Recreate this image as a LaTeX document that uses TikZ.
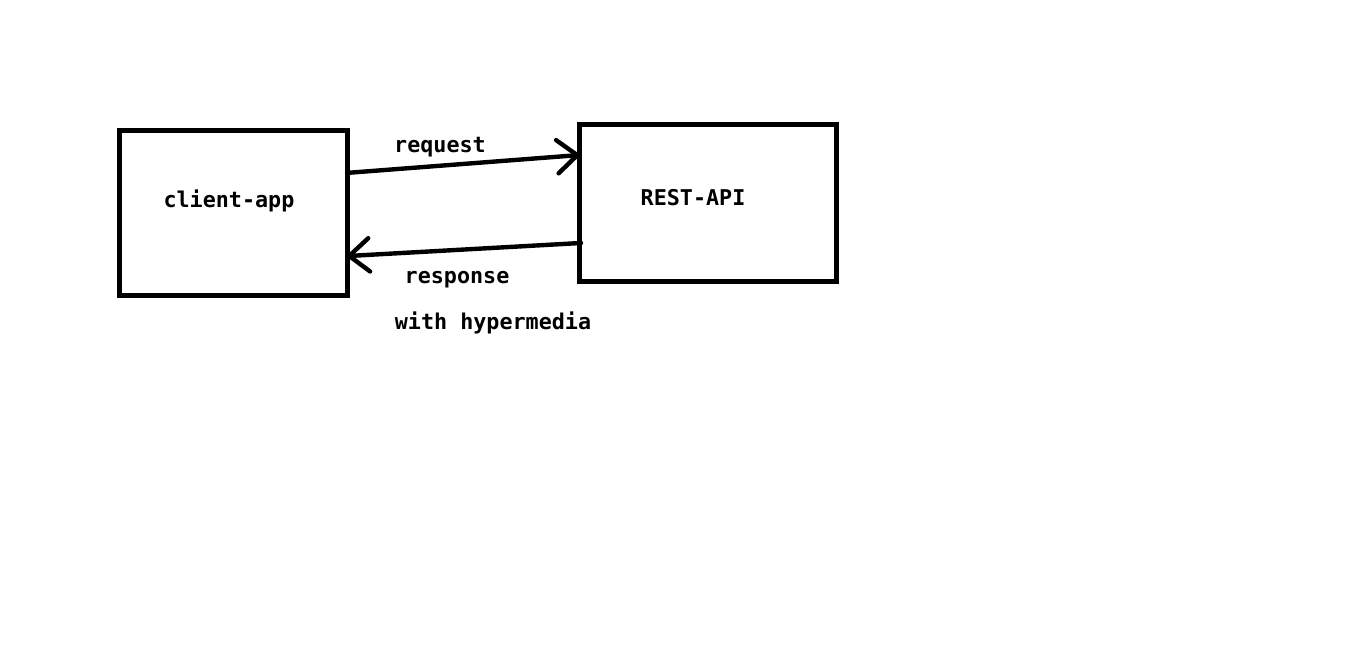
\documentclass[tikz,border=0pt]{standalone}
\usepackage{fontspec}
\setmonofont{DejaVu Sans Mono}
\usetikzlibrary{arrows.meta,calc}
\begin{document}
\begin{tikzpicture}[x=0.75pt,y=-0.75pt,
  box/.style={draw,line width=3.75pt,inner sep=0pt,outer sep=0pt},
  lbl/.style={font=\ttfamily\bfseries\fontsize{16.3}{19}\selectfont,inner sep=0pt},
  conn/.style={line width=3.3pt,line cap=round,-{Straight Barb[length=15pt,width=25pt,line width=3.3pt,round]}}]
\useasboundingbox (0,0) rectangle (1359,654);
\node[box,minimum width=171pt,minimum height=123.75pt] (client) at (233,212.5) {};
\node[box,minimum width=192.4pt,minimum height=117.4pt] (rest) at (707.75,202.75) {};
\coordinate (c1) at ($(client.north east)!0.26!(client.south east)$);
\coordinate (r1) at ($(rest.north west)!0.195!(rest.south west)$);
\coordinate (r2) at ($(rest.north west)!0.757!(rest.south west)+(1.5,0)$);
\coordinate (c2) at ($(client.north east)!0.764!(client.south east)$);
\draw[conn] (c1) -- (r1);
\draw[conn] (r2) -- (c2);
\node[lbl] (tc) at (229,201) {client-app};
\node[lbl] (tr) at (693,198) {REST-API};
\node[lbl] (treq) at (440,147) {request};
\node[lbl] (tresp) at (457,280) {response};
\node[lbl] (thyp) at (493,323) {with hypermedia};
\end{tikzpicture}
\end{document}
